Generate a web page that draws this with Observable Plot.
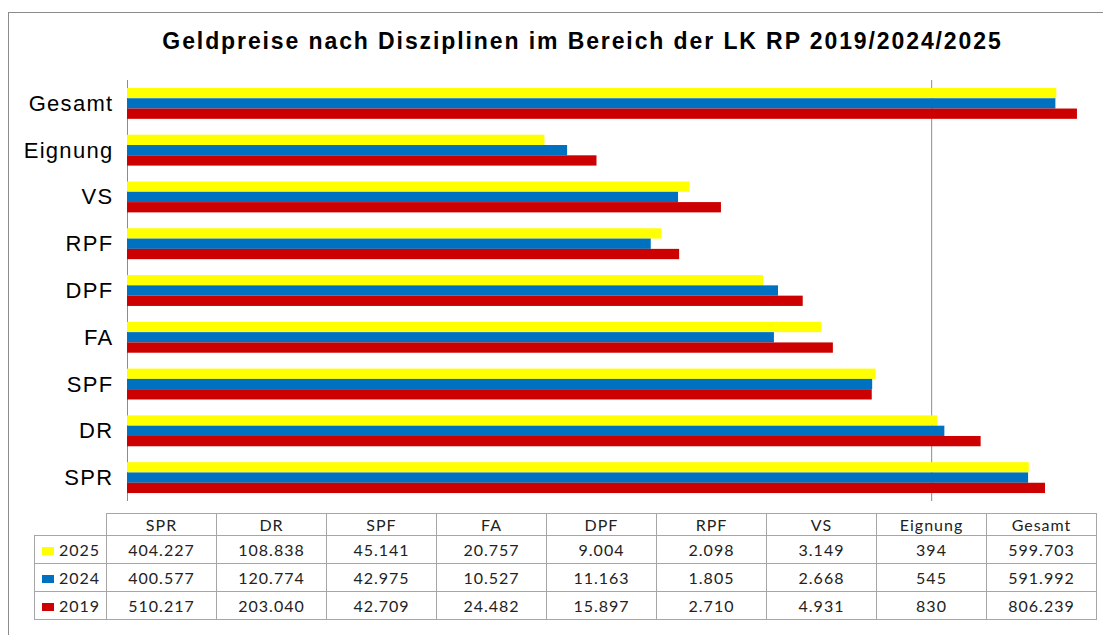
<!DOCTYPE html>
<html>
<head>
<meta charset="utf-8">
<script src="https://cdn.jsdelivr.net/npm/d3@7"></script>
<script src="https://cdn.jsdelivr.net/npm/@observablehq/plot@0.6"></script>
<style>
  html, body { margin: 0; padding: 0; background: #fff; overflow: hidden; }
  #wrap { position: relative; width: 1103px; height: 635px; overflow: hidden; }
  #frame { position: absolute; left: 8px; top: 12px; width: 1200px; height: 700px;
           border-left: 1px solid #8c8c8c; border-top: 1px solid #8c8c8c; }
  #title { position: absolute; left: 0; top: 28px; width: 1165px; text-align: center;
           font-family: "Liberation Sans", Arial, sans-serif; font-weight: bold; font-size: 23px;
           letter-spacing: 1.9px; color: #000; line-height: 26px; }
  #chart { position: absolute; left: 0; top: 0; }
  #tbl { position: absolute; left: 34px; top: 513px; border-collapse: collapse;
         font-family: Lato, "Open Sans", sans-serif; font-size: 16px; letter-spacing: 1px; color: #222; }
  #tbl td { border: 1.5px solid #a6a6a6; text-align: center; padding: 0; }
  #tbl tr.head td { height: 21px; }
  #tbl tr.body td { height: 27px; }
  #tbl td.corner { border: none; }
  #tbl td.rowhead { width: 72px; text-align: left; padding-left: 7px; box-sizing: border-box; }
  #tbl td.val { width: 109px; }
  .sw { display: inline-block; width: 12px; height: 8px; margin-right: 5px; vertical-align: 1px; }
</style>
</head>
<body>
<div id="wrap">
  <div id="frame"></div>
  <div id="chart"></div>
  <div id="title">Geldpreise nach Disziplinen im Bereich der LK RP 2019/2024/2025</div>
  <table id="tbl"></table>
</div>
<script>
// Categories as shown on the chart (top to bottom)
const categories = ["Gesamt", "Eignung", "VS", "RPF", "DPF", "FA", "SPF", "DR", "SPR"];
// Table column order
const tableColumns = ["SPR", "DR", "SPF", "FA", "DPF", "RPF", "VS", "Eignung", "Gesamt"];
const years = ["2025", "2024", "2019"];
const colors = ["#FFFF00", "#0070C0", "#CC0000"];
const values2025 = [404227, 108838, 45141, 20757, 9004, 2098, 3149, 394, 599703];
const values2024 = [400577, 120774, 42975, 10527, 11163, 1805, 2668, 545, 591992];
const values2019 = [510217, 203040, 42709, 24482, 15897, 2710, 4931, 830, 806239];
const gridValues = [100000];

const series = {"2025": values2025, "2024": values2024, "2019": values2019};
const data = years.flatMap(y => tableColumns.map((c, i) => ({cat: c, year: y, value: series[y][i]})));

// layout
const W = 1103, H = 505, mT = 80, mB = 4, pad = 0.34;
const band = d3.scaleBand(categories, [mT, H - mB]).paddingInner(pad).paddingOuter(pad / 2);
const bw = band.bandwidth();
const sub = bw / years.length;

const barMarks = years.map((y, k) =>
  Plot.barX(data.filter(d => d.year === y), {
    x1: () => 1, x2: "value", y: "cat", fill: "year",
    insetTop: k * sub, insetBottom: (years.length - 1 - k) * sub
  })
);

const chart = Plot.plot({
  width: W,
  height: H,
  marginLeft: 127,
  marginRight: 11,
  marginTop: mT,
  marginBottom: mB,
  x: {type: "log", domain: [1, 1e6], axis: null},
  y: {domain: categories, axis: "left", paddingInner: pad, paddingOuter: pad / 2, round: false, tickSize: 0, tickPadding: 14, label: null},
  color: {domain: years, range: colors},
  style: {fontFamily: "'Liberation Sans', Arial, sans-serif", fontSize: "22px", color: "#000", background: "transparent", overflow: "visible", letterSpacing: "1.3px"},
  marks: [
    Plot.ruleX([1], {stroke: "#8c8c8c", strokeWidth: 1}),
    Plot.ruleX(gridValues, {stroke: "#8c8c8c", strokeWidth: 1}),
    ...barMarks
  ]
});
document.getElementById("chart").appendChild(chart);

// Data table
const de = d3.formatLocale({decimal: ",", thousands: ".", grouping: [3], currency: ["", " €"]});
const fmt = de.format(",d");
const tbl = d3.select("#tbl");
const head = tbl.append("tr").attr("class", "head");
head.append("td").attr("class", "corner");
tableColumns.forEach(c => head.append("td").attr("class", "val").text(c));
years.forEach((y, k) => {
  const tr = tbl.append("tr").attr("class", "body");
  const th = tr.append("td").attr("class", "rowhead");
  th.append("span").attr("class", "sw").style("background", colors[k]);
  th.append("span").text(y);
  series[y].forEach(v => tr.append("td").attr("class", "val").text(fmt(v)));
});
</script>
</body>
</html>
